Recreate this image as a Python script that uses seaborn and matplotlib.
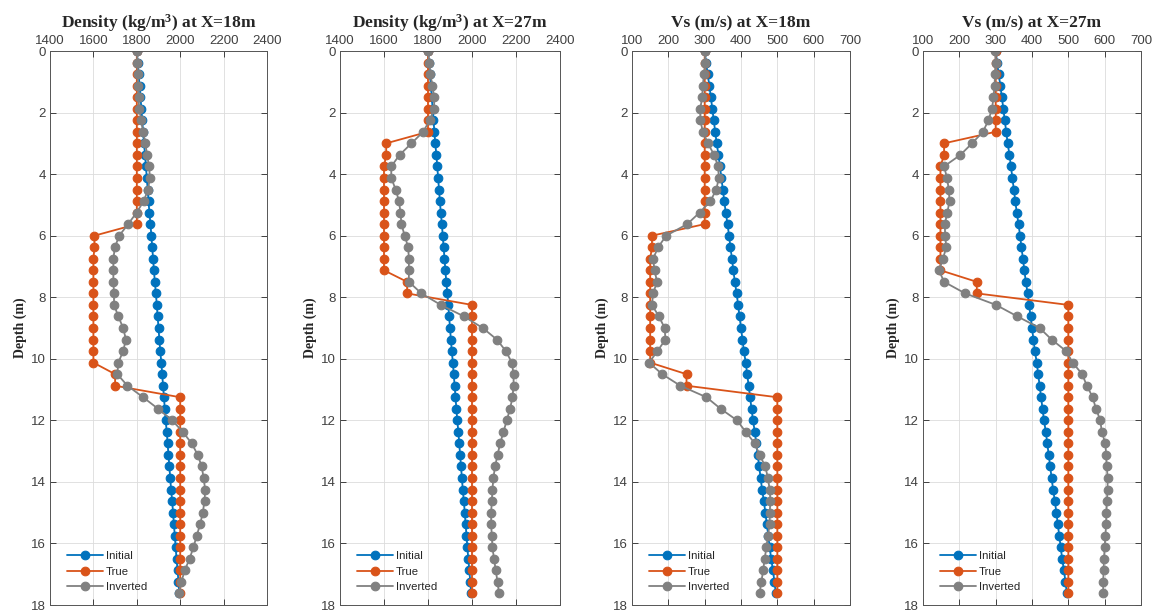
import numpy as np
import pandas as pd
import matplotlib
matplotlib.use("Agg")
import matplotlib.pyplot as plt
import seaborn as sns

# ---------------- data ----------------
depth_step = 0.375
n_layers = 48
depth = [round(i * depth_step, 3) for i in range(n_layers)]

rho_initial = [1800, 1804, 1808, 1813, 1817, 1821, 1825, 1829, 1833, 1838, 1842, 1846,
               1850, 1854, 1858, 1863, 1867, 1871, 1875, 1879, 1883, 1888, 1892, 1896,
               1900, 1904, 1908, 1913, 1917, 1921, 1925, 1929, 1933, 1938, 1942, 1946,
               1950, 1954, 1958, 1963, 1967, 1971, 1975, 1979, 1983, 1988, 1992, 1996]

vs_initial = [300, 304, 308, 313, 317, 321, 325, 329, 333, 338, 342, 346,
              350, 354, 358, 363, 367, 371, 375, 379, 383, 388, 392, 396,
              400, 404, 408, 413, 417, 421, 425, 429, 433, 438, 442, 446,
              450, 454, 458, 463, 467, 471, 475, 479, 483, 488, 492, 496]

rho_true_18 = [1800] * 16 + [1605, 1605] + [1600] * 10 + [1700, 1700] + [2000] * 18
rho_inv_18 = [1801, 1803, 1805, 1806, 1808, 1811, 1820, 1829, 1840, 1847, 1857, 1860,
              1852, 1832, 1799, 1760, 1719, 1699, 1692, 1692, 1692, 1695, 1695, 1715,
              1737, 1750, 1737, 1715, 1710, 1757, 1829, 1898, 1963, 2012, 2053, 2081,
              2099, 2108, 2115, 2112, 2104, 2092, 2076, 2061, 2043, 2021, 2005, 1993]

rho_true_27 = [1800] * 8 + [1610, 1610] + [1600] * 10 + [1705, 1705] + [2000] * 26
rho_inv_27 = [1801, 1805, 1811, 1820, 1828, 1828, 1808, 1778, 1725, 1671, 1633, 1633,
              1653, 1668, 1675, 1679, 1694, 1710, 1713, 1713, 1713, 1770, 1858, 1964,
              2049, 2113, 2154, 2181, 2189, 2189, 2184, 2173, 2158, 2143, 2128, 2116,
              2105, 2097, 2093, 2090, 2087, 2087, 2090, 2093, 2100, 2108, 2116, 2123]

vs_true_18 = [300] * 16 + [155, 155] + [150] * 10 + [250, 250] + [500] * 18
vs_inv_18 = [300, 302, 298, 295, 293, 288, 288, 295, 309, 326, 337, 339,
             332, 316, 286, 252, 194, 172, 158, 162, 169, 158, 155, 174,
             190, 192, 170, 147, 183, 233, 305, 344, 389, 413, 438, 451,
             467, 474, 479, 481, 479, 479, 474, 470, 465, 461, 456, 451]

vs_true_27 = [300] * 8 + [158, 158] + [148] * 10 + [248, 248] + [500] * 26
vs_inv_27 = [299, 300, 298, 297, 294, 290, 280, 265, 235, 203, 158, 166,
             171, 173, 167, 160, 161, 164, 155, 144, 158, 216, 301, 360,
             421, 454, 494, 512, 538, 551, 567, 576, 588, 592, 602, 604,
             606, 608, 608, 606, 605, 604, 602, 600, 598, 597, 596, 596]

titles = [r"Density (kg/m$^{3}$) at X=18m", r"Density (kg/m$^{3}$) at X=27m",
          "Vs (m/s) at X=18m", "Vs (m/s) at X=27m"]
series_names = ["Initial", "True", "Inverted"]
colors = ["#0072BD", "#D95319", "#808080"]

panels = [
    (rho_initial, rho_true_18, rho_inv_18, (1400, 2400), list(range(1400, 2401, 200))),
    (rho_initial, rho_true_27, rho_inv_27, (1400, 2400), list(range(1400, 2401, 200))),
    (vs_initial, vs_true_18, vs_inv_18, (100, 700), list(range(100, 701, 100))),
    (vs_initial, vs_true_27, vs_inv_27, (100, 700), list(range(100, 701, 100))),
]
depth_ticks = list(range(0, 19, 2))

# ---------------- style ----------------
sns.set_theme(style="ticks")
plt.rcParams["font.family"] = ["Liberation Sans", "DejaVu Sans"]
plt.rcParams["mathtext.fontset"] = "custom"
plt.rcParams["mathtext.rm"] = "Liberation Serif:bold"
plt.rcParams["mathtext.it"] = "Liberation Serif:bold"
plt.rcParams["mathtext.bf"] = "Liberation Serif:bold"

W, H = 1154, 613
fig = plt.figure(figsize=(W / 100, H / 100), dpi=100)

lefts = [50, 340, 632, 923]
widths = [217, 220, 218, 218]
top_px, bot_px = 51, 605
axis_col = "#262626"
tick_col = "#404040"

for k, (ini, tru, inv, xlim, xticks) in enumerate(panels):
    ax = fig.add_axes([lefts[k] / W, (H - bot_px) / H, widths[k] / W, (bot_px - top_px) / H])
    for name, vals, c in zip(series_names, [ini, tru, inv], colors):
        df = pd.DataFrame({"value": vals, "depth": depth})
        sns.lineplot(data=df, x="value", y="depth", sort=False, estimator=None,
                     color=c, marker="o", markersize=6.2, markeredgecolor=c,
                     markeredgewidth=0.8, linewidth=1.3, label=name, ax=ax)
    ax.set_xlim(*xlim)
    ax.set_ylim(18, 0)
    ax.set_xticks(xticks)
    ax.set_yticks(depth_ticks)
    ax.xaxis.tick_top()
    ax.tick_params(axis="both", which="both", direction="in", length=4,
                   top=True, bottom=True, left=True, right=True,
                   labeltop=True, labelbottom=False, labelsize=9.5,
                   colors=axis_col, labelcolor=tick_col, width=0.6, pad=3)
    ax.grid(True, color="#dcdcdc", linewidth=0.6)
    ax.set_axisbelow(True)
    for sp in ax.spines.values():
        sp.set_visible(True)
        sp.set_color("#555555")
        sp.set_linewidth(0.7)
    ax.set_xlabel("")
    ax.set_ylabel("Depth (m)", fontsize=10, fontweight="bold",
                  family=["Liberation Serif", "DejaVu Serif"], color=axis_col, labelpad=3)
    ax.set_title(titles[k], fontsize=12.5, fontweight="bold",
                 family=["Liberation Serif", "DejaVu Serif"], color=axis_col, pad=5)
    leg = ax.legend(loc="lower left", frameon=False, fontsize=8.2, handlelength=3.2,
                    handletextpad=0.2, labelspacing=0.5, borderaxespad=0.7,
                    bbox_to_anchor=(0.02, 0.0))
    for t in leg.get_texts():
        t.set_color(axis_col)

fig.savefig("out.png", dpi=100)
